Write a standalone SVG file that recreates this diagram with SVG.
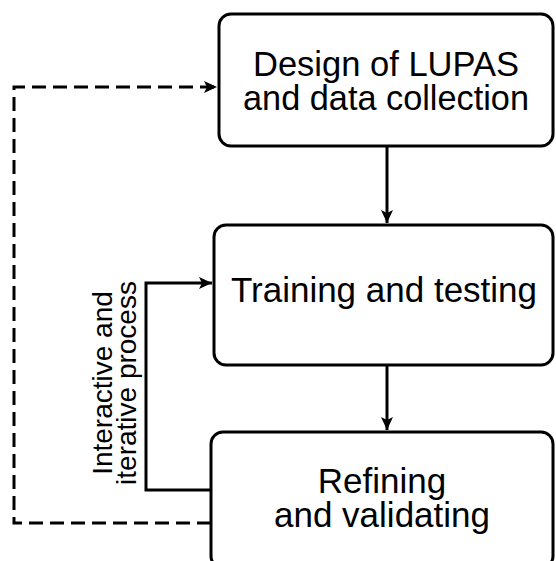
<svg xmlns="http://www.w3.org/2000/svg" width="556" height="561" viewBox="0 0 556 561">
<style>
.box{fill:#fff;stroke:#000;stroke-width:3}
.lbl{font-family:"Liberation Sans",Arial,sans-serif;font-size:35px;fill:#000;text-anchor:middle}
.side{font-family:"Liberation Sans",Arial,sans-serif;font-size:28px;fill:#000;text-anchor:middle}
.edge{fill:none;stroke:#000;stroke-width:3}
.dash{stroke-dasharray:14 7}
</style>
<defs>
<marker id="ah" markerWidth="14" markerHeight="12" refX="13" refY="6" orient="auto" markerUnits="userSpaceOnUse">
<path d="M0,0 L13,6 L0,12 L3,6 Z" fill="#000"/>
</marker>
</defs>
<rect width="556" height="561" fill="#fff"/>
<g id="connectors">
<path class="edge" d="M387,146 V223" marker-end="url(#ah)"/>
<path class="edge" d="M387,366 V430" marker-end="url(#ah)"/>
<path class="edge" d="M211,490 H146 V283 H212" marker-end="url(#ah)"/>
<path class="edge dash" d="M211,523 H14 V87 H217" marker-end="url(#ah)"/>
</g>
<g id="label-iterative">
<text class="side" transform="translate(112,383) rotate(-90)">Interactive and</text>
<text class="side" transform="translate(136,383) rotate(-90)">iterative process</text>
</g>
<g id="node-design">
<rect class="box" x="219" y="14" width="334" height="132" rx="12"/>
<text class="lbl" x="386" y="76" textLength="266" lengthAdjust="spacingAndGlyphs">Design of LUPAS</text>
<text class="lbl" x="386" y="110" textLength="286" lengthAdjust="spacingAndGlyphs">and data collection</text>
</g>
<g id="node-training">
<rect class="box" x="214" y="225" width="339" height="140" rx="12"/>
<text class="lbl" x="384" y="302">Training and testing</text>
</g>
<g id="node-refining">
<rect class="box" x="211" y="432" width="342" height="136" rx="12"/>
<text class="lbl" x="382" y="493">Refining</text>
<text class="lbl" x="382" y="527">and validating</text>
</g>
</svg>
